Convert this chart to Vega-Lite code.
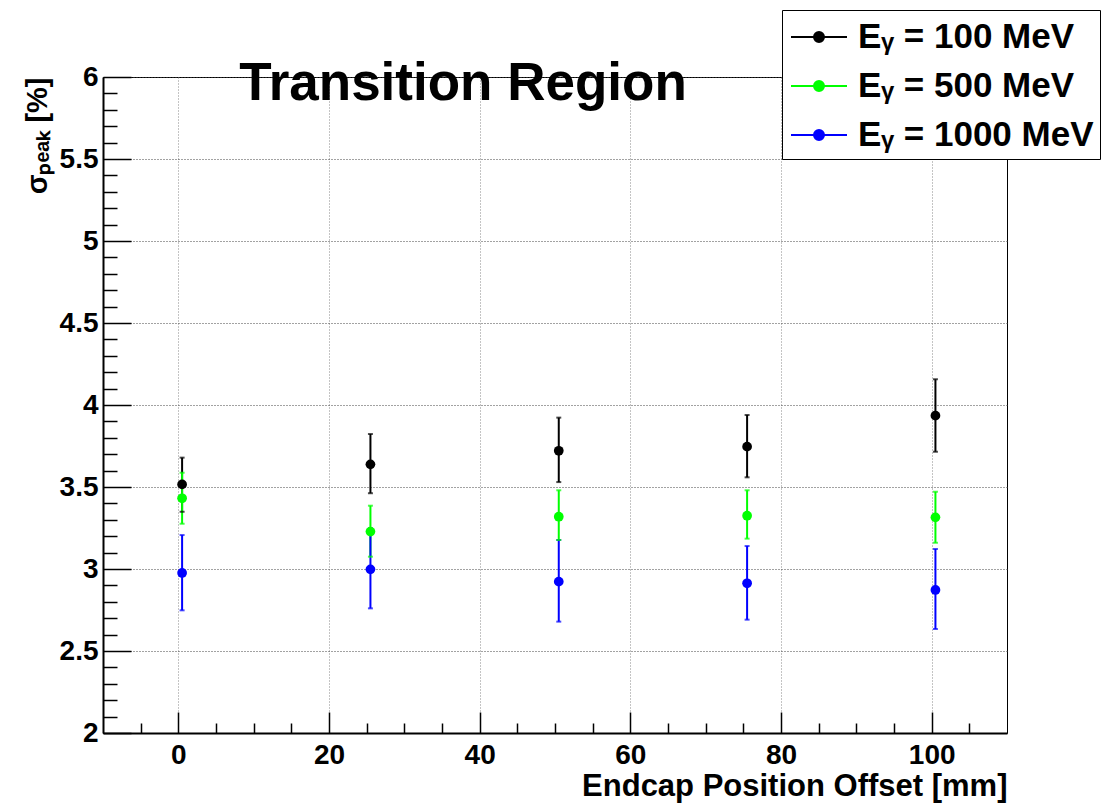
{
  "$schema": "https://vega.github.io/schema/vega-lite/v6.json",
  "width": 904,
  "height": 656,
  "autosize": "none",
  "padding": {"left": 103, "top": 77, "right": 100, "bottom": 71},
  "background": "white",
  "config": {
    "font": "Liberation Sans",
    "view": {"stroke": "black", "strokeWidth": 1},
    "axis": {"labelFont": "Liberation Sans", "labelFontWeight": "bold", "labelFontSize": 28, "labelColor": "black", "titleFont": "Liberation Sans", "titleFontWeight": "bold", "titleColor": "black", "domainColor": "black", "domainWidth": 2, "tickColor": "black", "tickWidth": 1.5}
  },
  "title": {
    "text": "Transition Region",
    "font": "Liberation Sans",
    "fontSize": 53,
    "fontWeight": "bold",
    "color": "black",
    "anchor": "middle",
    "baseline": "alphabetic",
    "offset": -25,
    "dx": -92,
    "dy": 118
  },
  "data": {
    "values": [
      {"series": "Eᵧ = 100 MeV", "x": 0.5, "y": 3.516, "lo": 3.349, "hi": 3.679},
      {"series": "Eᵧ = 100 MeV", "x": 25.5, "y": 3.638, "lo": 3.462, "hi": 3.823},
      {"series": "Eᵧ = 100 MeV", "x": 50.5, "y": 3.721, "lo": 3.530, "hi": 3.923},
      {"series": "Eᵧ = 100 MeV", "x": 75.5, "y": 3.746, "lo": 3.559, "hi": 3.939},
      {"series": "Eᵧ = 100 MeV", "x": 100.5, "y": 3.935, "lo": 3.715, "hi": 4.157},
      {"series": "Eᵧ = 500 MeV", "x": 0.5, "y": 3.431, "lo": 3.276, "hi": 3.587},
      {"series": "Eᵧ = 500 MeV", "x": 25.5, "y": 3.228, "lo": 3.075, "hi": 3.386},
      {"series": "Eᵧ = 500 MeV", "x": 50.5, "y": 3.319, "lo": 3.177, "hi": 3.480},
      {"series": "Eᵧ = 500 MeV", "x": 75.5, "y": 3.325, "lo": 3.185, "hi": 3.480},
      {"series": "Eᵧ = 500 MeV", "x": 100.5, "y": 3.315, "lo": 3.160, "hi": 3.471},
      {"series": "Eᵧ = 1000 MeV", "x": 0.5, "y": 2.976, "lo": 2.748, "hi": 3.207},
      {"series": "Eᵧ = 1000 MeV", "x": 25.5, "y": 2.998, "lo": 2.760, "hi": 3.248},
      {"series": "Eᵧ = 1000 MeV", "x": 50.5, "y": 2.923, "lo": 2.679, "hi": 3.177},
      {"series": "Eᵧ = 1000 MeV", "x": 75.5, "y": 2.913, "lo": 2.691, "hi": 3.140},
      {"series": "Eᵧ = 1000 MeV", "x": 100.5, "y": 2.872, "lo": 2.634, "hi": 3.122}
    ]
  },
  "layer": [
    {
      "mark": {"type": "rule", "strokeWidth": 2},
      "encoding": {
        "x": {"field": "x", "type": "quantitative", "scale": {"domain": [-10, 110], "nice": false, "zero": false},
              "axis": {"orient": "bottom", "values": [0, 20, 40, 60, 80, 100], "grid": true, "gridColor": "#888", "gridDash": [1, 2], "gridWidth": 1, "tickSize": -21, "labelPadding": 29, "title": "Endcap Position Offset [mm]", "titleFontSize": 31, "titleAnchor": "end", "titleAlign": "right", "titlePadding": 2}},
        "y": {"field": "lo", "type": "quantitative", "scale": {"domain": [2, 6], "nice": false, "zero": false},
              "axis": {"orient": "left", "values": [2, 2.5, 3, 3.5, 4, 4.5, 5, 5.5, 6], "format": "~g", "grid": true, "gridColor": "#444", "gridDash": [1, 2], "gridWidth": 1, "tickSize": -28, "labelPadding": 33, "title": "σₚₑₐₖ [%]", "titleFontSize": 29, "titleAnchor": "end", "titlePadding": 7}},
        "y2": {"field": "hi"},
        "color": {"field": "series", "type": "nominal", "scale": {"domain": ["Eᵧ = 100 MeV", "Eᵧ = 500 MeV", "Eᵧ = 1000 MeV"], "range": ["#000000", "#00ff00", "#0000ff"]},
                  "legend": {"title": null, "orient": "none", "legendX": 679, "legendY": -67,
                             "fillColor": "white", "strokeColor": "black",
                             "padding": 6, "rowPadding": 10, "offset": 0,
                             "symbolType": "M-1.4,0H1.4M0.25,0A0.25,0.25 0 1,1 -0.25,0A0.25,0.25 0 1,1 0.25,0Z",
                             "symbolSize": 1600, "symbolStrokeWidth": 2, "symbolOpacity": 1, "symbolOffset": 10,
                             "labelFont": "Liberation Sans", "labelFontWeight": "bold", "labelFontSize": 35, "labelColor": "black", "labelOffset": 18, "labelLimit": 400,
                             "encode": {"symbols": {"update": {"stroke": {"scale": "color", "field": "value"}, "fill": {"scale": "color", "field": "value"}}}}}}
      }
    },
    {
      "mark": {"type": "tick", "orient": "horizontal", "size": 5, "thickness": 2},
      "encoding": {
        "x": {"field": "x", "type": "quantitative",
              "axis": {"orient": "bottom", "values": [-5, 5, 10, 15, 25, 30, 35, 45, 50, 55, 65, 70, 75, 85, 90, 95, 105], "labels": false, "grid": false, "domain": false, "tickSize": -10, "title": null}},
        "y": {"field": "hi", "type": "quantitative",
              "axis": {"orient": "left", "values": [2.1, 2.2, 2.3, 2.4, 2.6, 2.7, 2.8, 2.9, 3.1, 3.2, 3.3, 3.4, 3.6, 3.7, 3.8, 3.9, 4.1, 4.2, 4.3, 4.4, 4.6, 4.7, 4.8, 4.9, 5.1, 5.2, 5.3, 5.4, 5.6, 5.7, 5.8, 5.9], "labels": false, "grid": false, "domain": false, "tickSize": -14, "title": null}},
        "color": {"field": "series", "type": "nominal"}
      }
    },
    {
      "mark": {"type": "tick", "orient": "horizontal", "size": 5, "thickness": 2},
      "encoding": {
        "x": {"field": "x", "type": "quantitative", "axis": null},
        "y": {"field": "lo", "type": "quantitative", "axis": null},
        "color": {"field": "series", "type": "nominal"}
      }
    },
    {
      "mark": {"type": "point", "filled": true, "opacity": 1, "size": 95, "shape": "circle"},
      "encoding": {
        "x": {"field": "x", "type": "quantitative", "axis": null},
        "y": {"field": "y", "type": "quantitative", "axis": null},
        "color": {"field": "series", "type": "nominal"}
      }
    }
  ],
  "resolve": {"axis": {"x": "independent", "y": "independent"}}
}
